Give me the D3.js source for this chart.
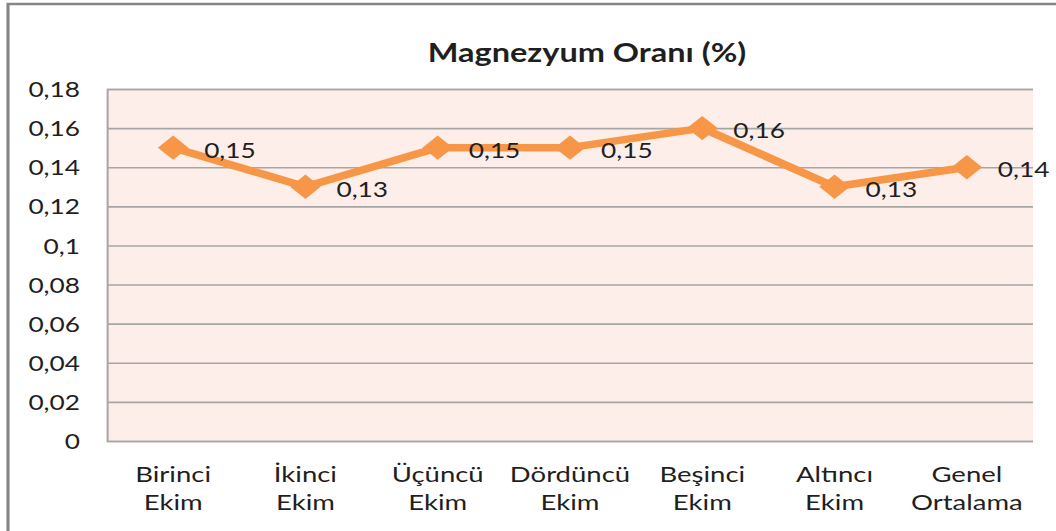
<!DOCTYPE html>
<html>
<head>
<meta charset="utf-8">
<script src="https://cdn.jsdelivr.net/npm/d3@7"></script>
<style>
  html, body { margin: 0; padding: 0; background: #fff; }
  svg { display: block; }
</style>
</head>
<body>
<div id="chart"></div>
<script>
  // --- Data ---
  const categories = [
    ['Birinci', 'Ekim'],
    ['İkinci', 'Ekim'],
    ['Üçüncü', 'Ekim'],
    ['Dördüncü', 'Ekim'],
    ['Beşinci', 'Ekim'],
    ['Altıncı', 'Ekim'],
    ['Genel', 'Ortalama']
  ];
  const values = [0.15, 0.13, 0.15, 0.15, 0.16, 0.13, 0.14];
  const yTicks = [0, 0.02, 0.04, 0.06, 0.08, 0.1, 0.12, 0.14, 0.16, 0.18];
  const title = 'Magnezyum Oranı (%)';

  const COLORS = {
    line: '#F79646',
    plotBg: '#FDEEE9',
    grid: '#A6A6A6',
    frame: '#868686',
    text: '#1f1f1f'
  };

  // The source image is stretched horizontally; draw in narrower units and stretch.
  const SX = 1.25;
  const W = 1056 / SX, H = 531;
  const FONT = 'Lato, "Open Sans", sans-serif';
  const fmt = d => String(d).replace('.', ',');

  const plot = { left: 107 / SX, right: 1033 / SX, top: 89, bottom: 441 };

  const svg = d3.select('#chart').append('svg')
    .attr('width', 1056).attr('height', 531)
    .attr('viewBox', `0 0 ${W} ${H}`)
    .attr('preserveAspectRatio', 'none');

  // Outer frame (right and bottom edges run off the picture)
  svg.append('rect')
    .attr('x', 8 / SX).attr('y', 4)
    .attr('width', W).attr('height', H)
    .attr('fill', '#fff')
    .attr('stroke', COLORS.frame)
    .attr('stroke-width', 2.5);

  const x = d3.scaleBand()
    .domain(d3.range(categories.length))
    .range([plot.left, plot.right]);

  const y = d3.scaleLinear()
    .domain([0, 0.18])
    .range([plot.bottom, plot.top]);

  // Plot background
  svg.append('rect')
    .attr('x', plot.left).attr('y', plot.top)
    .attr('width', plot.right - plot.left)
    .attr('height', plot.bottom - plot.top)
    .attr('fill', COLORS.plotBg);

  // Gridlines + y labels
  const gy = svg.append('g')
    .attr('transform', `translate(${plot.left},0)`)
    .call(d3.axisLeft(y).tickValues(yTicks).tickSize(-(plot.right - plot.left)).tickFormat(fmt).tickPadding(27 / SX));
  gy.select('.domain').attr('stroke', COLORS.grid).attr('stroke-width', 1.6);
  gy.selectAll('.tick line').attr('stroke', COLORS.grid).attr('stroke-width', 1.6);
  gy.selectAll('.tick text')
    .attr('fill', COLORS.text)
    .attr('font-family', FONT)
    .attr('font-size', '21px')
    .attr('dy', '0.36em');

  // Category labels
  const gx = svg.append('g');
  categories.forEach((lines, i) => {
    const t = gx.append('text')
      .attr('x', x(i) + x.bandwidth() / 2)
      .attr('y', 482)
      .attr('text-anchor', 'middle')
      .attr('fill', COLORS.text)
      .attr('font-family', FONT)
      .attr('font-size', '22px');
    lines.forEach((ln, j) => {
      t.append('tspan')
        .attr('x', x(i) + x.bandwidth() / 2)
        .attr('dy', j === 0 ? 0 : 28)
        .text(ln);
    });
  });

  // Title
  svg.append('text')
    .attr('x', 587 / SX).attr('y', 62)
    .attr('text-anchor', 'middle')
    .attr('fill', COLORS.text)
    .attr('font-family', FONT)
    .attr('font-weight', 700)
    .attr('font-size', '26px')
    .text(title);

  // Series line
  const cx = i => x(i) + x.bandwidth() / 2;
  const line = d3.line()
    .x((d, i) => cx(i))
    .y(d => y(d));

  svg.append('path')
    .datum(values)
    .attr('fill', 'none')
    .attr('stroke', COLORS.line)
    .attr('stroke-width', 7.5)
    .attr('stroke-linejoin', 'round')
    .attr('d', line);

  // Diamond markers
  const diamond = d3.symbol().type(d3.symbolDiamond2).size(380);
  svg.append('g').selectAll('path')
    .data(values)
    .join('path')
    .attr('transform', (d, i) => `translate(${cx(i)},${y(d)})`)
    .attr('d', diamond)
    .attr('fill', COLORS.line);

  // Data labels
  svg.append('g').selectAll('text')
    .data(values)
    .join('text')
    .attr('x', (d, i) => cx(i) + 31 / SX)
    .attr('y', d => y(d) + 10)
    .attr('fill', COLORS.text)
    .attr('font-family', FONT)
    .attr('font-size', '21px')
    .text(fmt);
</script>
</body>
</html>
